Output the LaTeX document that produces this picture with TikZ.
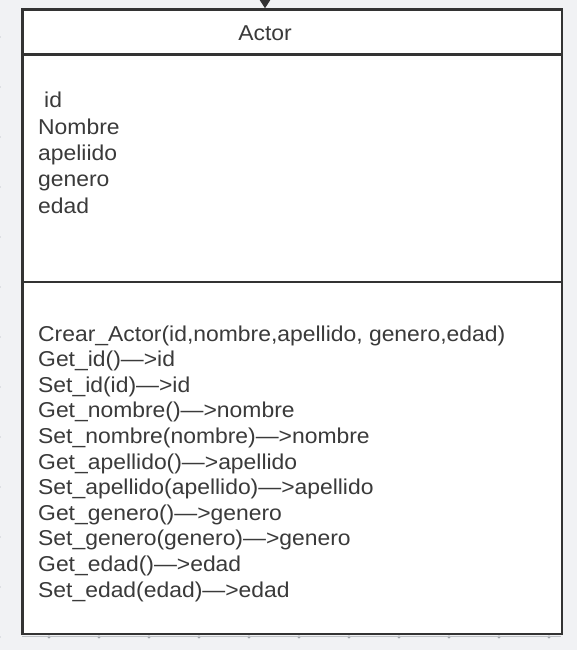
\documentclass[tikz,border=0pt]{standalone}
\usepackage{fontspec}
\setmainfont{Liberation Sans}[FakeStretch=1.065]
\usetikzlibrary{arrows.meta}
\definecolor{bg}{HTML}{F1F2F4}
\definecolor{ink}{HTML}{333333}
\definecolor{txtc}{HTML}{3A3A3A}
\definecolor{dotc}{HTML}{A3A7AC}
\begin{document}
\begin{tikzpicture}[x=1pt,y=-1pt,
  txt/.style={anchor=base west, inner sep=0pt, text=txtc, font=\fontsize{21.5}{26}\selectfont},
  part/.style={draw=ink, line width=2.5pt, fill=white, inner sep=0pt, minimum width=539.5pt},
  griddot/.style={fill=dotc}]
\fill[bg] (0,0) rectangle (577,650);
\useasboundingbox (0,0) rectangle (577,650);
% canvas grid dots
\foreach \y in {37,87,...,637} \fill[griddot] (-1,\y) circle (1.6);
\foreach \x in {49,99,...,549} \fill[griddot] (\x,637) circle (1.6);
% faint shadow line under the box
\draw[dotc!70, line width=1pt] (22,636.3) -- (561,636.3);
% class compartments
\node[part, minimum height=227.5pt] (attrs) at (292.25,168.25) {};
\node[part, minimum height=352pt] (methods) at (292.25,458) {};
\node[part, minimum height=45pt] (header) at (292.25,32) {};
% incoming connector
\coordinate (src) at (265,-20);
\draw[ink, line width=1.5pt, -{Triangle[width=10pt,length=8pt]}] (src) -- (src |- header.north);
% header text
\node[txt, anchor=base] (title) at (265,41) {Actor};
% attributes
\node[txt] (a1) at (44,108) {id};
\node[txt] (a2) at (38,134.25) {Nombre};
\node[txt] (a3) at (38,160.5) {apeliido};
\node[txt] (a4) at (38,186.75) {genero};
\node[txt] (a5) at (38,213) {edad};
% methods
\node[txt] (m1) at (38,341) {Crear\_Actor(id,nombre,apellido, genero,edad)};
\node[txt] (m2) at (38,366.6) {Get\_id()—>id};
\node[txt] (m3) at (38,392.2) {Set\_id(id)—>id};
\node[txt] (m4) at (38,417.8) {Get\_nombre()—>nombre};
\node[txt] (m5) at (38,443.4) {Set\_nombre(nombre)—>nombre};
\node[txt] (m6) at (38,469) {Get\_apellido()—>apellido};
\node[txt] (m7) at (38,494.6) {Set\_apellido(apellido)—>apellido};
\node[txt] (m8) at (38,520.2) {Get\_genero()—>genero};
\node[txt] (m9) at (38,545.8) {Set\_genero(genero)—>genero};
\node[txt] (m10) at (38,571.4) {Get\_edad()—>edad};
\node[txt] (m11) at (38,597) {Set\_edad(edad)—>edad};
\end{tikzpicture}
\end{document}
